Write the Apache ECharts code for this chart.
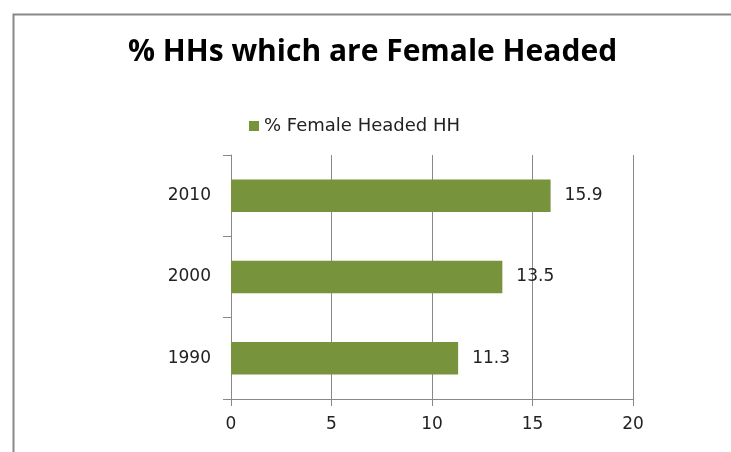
<!DOCTYPE html>
<html>
<head>
<meta charset="utf-8">
<script src="https://cdn.jsdelivr.net/npm/echarts@6/dist/echarts.min.js"></script>
<style>
  html, body { margin: 0; padding: 0; background: #fff; }
  #chart { width: 731px; height: 452px; }
</style>
</head>
<body>
<div id="chart"></div>
<script>
// 年份分类
var years = ['1990', '2000', '2010'];
// 女性户主比例
var femaleHeaded = [11.3, 13.5, 15.9];
var xTicks = [0, 5, 10, 15, 20];

var myChart = echarts.init(document.getElementById('chart'));
var option = {
  backgroundColor: '#fff',
  textStyle: { fontFamily: 'DejaVu Sans' },
  title: {
    text: '% HHs which are Female Headed',
    left: 123,
    top: 32,
    textStyle: { fontSize: 30, fontWeight: 'bold', color: '#000', fontFamily: 'Open Sans' }
  },
  legend: {
    top: 112,
    left: 244,
    itemWidth: 10,
    itemHeight: 10,
    itemGap: 8,
    icon: 'rect',
    textStyle: { fontSize: 18, color: '#222' }
  },
  graphic: [{
    type: 'rect',
    left: 11,
    top: 12,
    shape: { width: 800, height: 500 },
    style: { fill: 'none', stroke: '#888', lineWidth: 2 }
  }],
  grid: { left: 231, right: 98, top: 155, bottom: 53 },
  xAxis: {
    type: 'value',
    min: xTicks[0],
    max: xTicks[xTicks.length - 1],
    interval: 5,
    axisLine: { show: true, lineStyle: { color: '#888' } },
    axisTick: { show: true, length: 7, lineStyle: { color: '#888' } },
    splitLine: { show: true, lineStyle: { color: '#888' } },
    axisLabel: { fontSize: 17, color: '#222', margin: 17 }
  },
  yAxis: {
    type: 'category',
    data: years,
    axisLine: { show: true, lineStyle: { color: '#888' } },
    axisTick: { show: true, length: 8, lineStyle: { color: '#888' } },
    axisLabel: { fontSize: 17, color: '#222', margin: 20 }
  },
  series: [{
    name: '% Female Headed HH',
    type: 'bar',
    data: femaleHeaded,
    barCategoryGap: '60%',
    itemStyle: { color: '#77933C' },
    label: { show: true, position: 'right', distance: 14, fontSize: 17, color: '#222' }
  }]
};
myChart.setOption(option);
</script>
</body>
</html>
